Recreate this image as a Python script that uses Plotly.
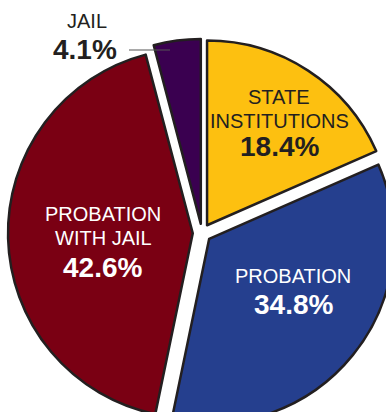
import plotly.graph_objects as go

# ---- data ----
categories = ["STATE<br>INSTITUTIONS", "PROBATION", "PROBATION<br>WITH JAIL", "JAIL"]
values = [18.4, 34.8, 42.6, 4.1]
colors = ["#FDC010", "#253F8E", "#7A0013", "#3A0050"]
label_colors = ["#231F20", "#FFFFFF", "#FFFFFF", "#231F20"]

# ---- layout helpers (figure larger than window; cropped like the reference) ----
W, H = 404, 466
def px(x):
    return x / W
def py(y):
    return 1 - y / H

fig = go.Figure(go.Pie(
    labels=categories,
    values=values,
    sort=False,
    direction="clockwise",
    rotation=0,
    pull=0.05,
    marker=dict(colors=colors, line=dict(color="#231F20", width=2.5)),
    textinfo="none",
    hoverinfo="label+value",
    domain=dict(x=[px(8), px(396)], y=[py(427), py(39)]),
    showlegend=False,
))

FONT = "Liberation Sans, Arial, sans-serif"
# label anchor positions (pixel centers) for each category: name lines then percent
label_pos = [
    ([(278, 97.5), (279, 121.5)], (279, 147)),
    ([(293, 276.5)], (293, 305)),
    ([(102.5, 214.5), (103.5, 238.5)], (102.5, 268)),
    ([(86.5, 21.5)], (85, 50)),
]

annotations = []
for name, val, col, (lines_pos, pct_pos) in zip(categories, values, label_colors, label_pos):
    for line, (lx, ly) in zip(name.split("<br>"), lines_pos):
        annotations.append(dict(
            x=px(lx), y=py(ly - 0.5), xref="paper", yref="paper",
            text=line, showarrow=False, xanchor="center", yanchor="middle",
            font=dict(family=FONT, size=20, color=col),
        ))
    annotations.append(dict(
        x=px(pct_pos[0]), y=py(pct_pos[1] - 0.5), xref="paper", yref="paper",
        text="<b>%.1f%%</b>" % val, showarrow=False, xanchor="center", yanchor="middle",
        font=dict(family=FONT, size=28, color=col),
    ))

fig.update_layout(
    width=W, height=H,
    margin=dict(l=0, r=0, t=0, b=0),
    paper_bgcolor="white", plot_bgcolor="white",
    annotations=annotations,
    shapes=[dict(type="line", xref="paper", yref="paper",
                 x0=px(129), x1=px(170), y0=py(50), y1=py(50),
                 line=dict(color="#555555", width=1.2), layer="above")],
)

fig.write_html("out.html", config={"displayModeBar": False},
               post_script="document.body.style.margin='0';document.body.style.overflow='hidden';")
